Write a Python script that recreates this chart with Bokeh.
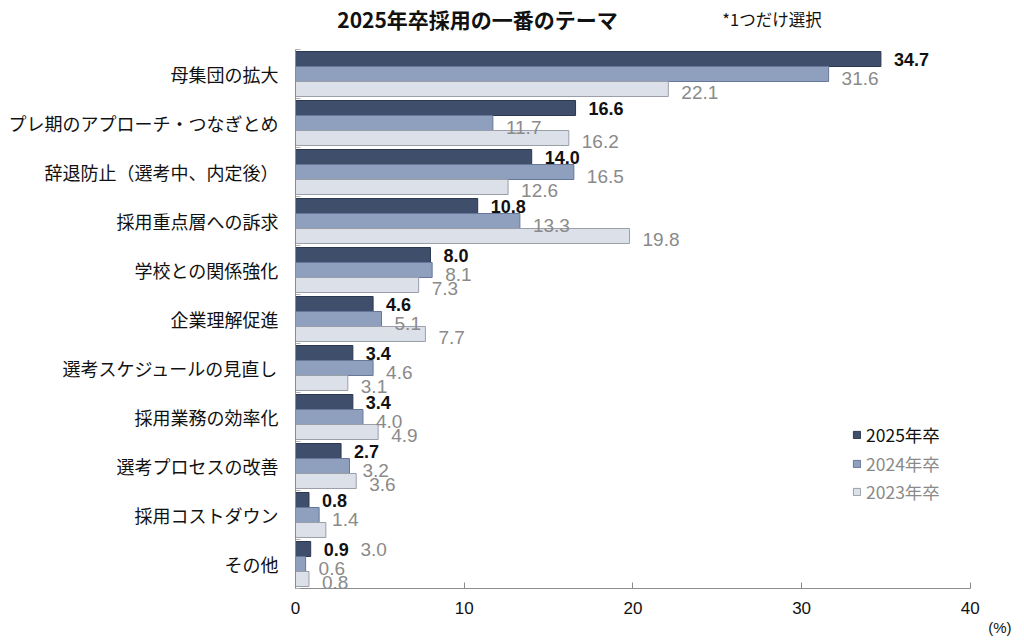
from bokeh.plotting import figure
from bokeh.models import (ColumnDataSource, Range1d, FixedTicker, LabelSet, Label,
                          Legend, LegendItem, LinearAxis)
from bokeh.transform import dodge
from bokeh.core.properties import value
from bokeh.embed import file_html
from bokeh.resources import INLINE

categories = ["母集団の拡大", "プレ期のアプローチ・つなぎとめ", "辞退防止（選考中、内定後）",
              "採用重点層への訴求", "学校との関係強化", "企業理解促進",
              "選考スケジュールの見直し", "採用業務の効率化", "選考プロセスの改善",
              "採用コストダウン", "その他"]
series_names = ["2025年卒", "2024年卒", "2023年卒"]
v2025 = [34.7, 16.6, 14.0, 10.8, 8.0, 4.6, 3.4, 3.4, 2.7, 0.8, 0.9]
v2024 = [31.6, 11.7, 16.5, 13.3, 8.1, 5.1, 4.6, 4.0, 3.2, 1.4, 0.6]
v2023 = [22.1, 16.2, 12.6, 19.8, 7.3, 7.7, 3.1, 4.9, 3.6, 1.8, 0.8]
lbl2023 = ["22.1", "16.2", "12.6", "19.8", "7.3", "7.7", "3.1", "4.9", "3.6", "", "0.8"]
stray_label = "3.0"
x_ticks = [0, 10, 20, 30, 40]
unit_label = "(%)"

FONT = "Noto Sans CJK JP"
NUM_FONT = "Liberation Sans"
fills = ["#3f4e6b", "#8fa0bf", "#dce0e9"]
lines = ["#2c3850", "#66779a", "#9a9ea8"]
lbl_colors = ["#111111", "#8a8a8a", "#8a8a8a"]
offsets = [-0.306, 0.0, 0.306]

n = len(categories)
idx = list(range(n))
src = ColumnDataSource(dict(
    idx=idx, v2025=v2025, v2024=v2024, v2023=v2023,
    t2025=[f"{v:.1f}" for v in v2025], t2024=[f"{v:.1f}" for v in v2024], t2023=lbl2023,
))

# frame extends above the categories (title area) and right of 40 (unit area);
# the axes themselves are bounded to the data area
p = figure(width=1012, height=641, output_backend="svg", toolbar_location=None,
           x_range=Range1d(0, 42.5), y_range=Range1d(n - 0.5, -1.5),
           min_border_left=295, min_border_right=0, min_border_top=0, min_border_bottom=53)
p.outline_line_color = None
p.xgrid.grid_line_color = None
p.ygrid.grid_line_color = None

renderers = []
for k, col in enumerate(["v2025", "v2024", "v2023"]):
    r = p.hbar(y=dodge("idx", offsets[k], range=p.y_range), right=col, left=0, height=0.306,
               source=src, fill_color=fills[k], line_color=lines[k], line_width=1)
    renderers.append(r)
    ls = LabelSet(x=col, y=dodge("idx", offsets[k], range=p.y_range),
                  text=["t2025", "t2024", "t2023"][k], source=src,
                  x_offset=13, y_offset=0 if k == 0 else -4,
                  text_baseline="middle", text_align="left",
                  text_font=value(NUM_FONT),
                  text_font_size="18px" if k == 0 else "19px",
                  text_font_style="bold" if k == 0 else "normal",
                  text_color=lbl_colors[k])
    p.add_layout(ls)

# stray label seen in the reference next to "その他"
p.add_layout(Label(x=3.85, y=10 + offsets[0], text=stray_label, text_baseline="middle",
                   text_font=NUM_FONT, text_font_size="19px", text_color="#8a8a8a"))

# x axis
xa = p.xaxis[0]
xa.bounds = (0, 40)
xa.ticker = FixedTicker(ticks=x_ticks)
xa.axis_line_color = "#8c8c8c"
xa.major_tick_line_color = "#8c8c8c"
xa.major_tick_in = 6
xa.major_tick_out = 0
xa.minor_tick_line_color = None
xa.major_label_text_font = NUM_FONT
xa.major_label_text_font_size = "17px"
xa.major_label_text_color = "#111111"
xa.major_label_standoff = 13

# second, line-less axis carrying only the unit label
ua = LinearAxis(ticker=FixedTicker(ticks=[41.75]), major_label_overrides={41.75: unit_label},
                axis_line_color=None, major_tick_line_color=None, minor_tick_line_color=None,
                major_tick_in=0, major_tick_out=0,
                major_label_standoff=2, major_label_text_font=NUM_FONT,
                major_label_text_font_size="15px", major_label_text_color="#111111")
p.add_layout(ua, "below")

# y axis
ya = p.yaxis[0]
ya.bounds = (-0.5, n - 0.5)
ya.ticker = FixedTicker(ticks=idx, minor_ticks=[i - 0.5 for i in range(n + 1)])
ya.major_label_overrides = {i: c for i, c in enumerate(categories)}
ya.axis_line_color = "#8c8c8c"
ya.major_tick_line_color = None
ya.minor_tick_line_color = "#b0b0b0"
ya.minor_tick_in = 5
ya.minor_tick_out = 0
ya.major_label_text_font = FONT
ya.major_label_text_font_size = "18px"
ya.major_label_text_color = "#111111"
ya.major_label_standoff = 11

# title and note inside the (extended) frame
p.add_layout(Label(x=10.79, y=-1.13, text="2025年卒採用の一番のテーマ", text_align="center",
                   text_baseline="middle", text_font=FONT, text_font_size="21px",
                   text_font_style="bold", text_color="#111111"))
p.add_layout(Label(x=25.3, y=-1.13, text="*1つだけ選択", text_align="left",
                   text_baseline="middle", text_font=FONT, text_font_size="16.5px",
                   text_color="#111111"))

# legends (one per series so each label keeps its colour)
leg_y = [141, 112, 84]
for k in range(3):
    lg = Legend(items=[LegendItem(label=series_names[k], renderers=[renderers[k]])],
                location=(557, leg_y[k]), padding=0, margin=0, border_line_color=None,
                background_fill_alpha=0, glyph_width=9, glyph_height=9, label_standoff=5,
                label_height=20, label_text_font=FONT, label_text_font_size="17.5px",
                label_text_color=lbl_colors[k])
    p.add_layout(lg)

open("out.html", "w").write(file_html(p, INLINE))
